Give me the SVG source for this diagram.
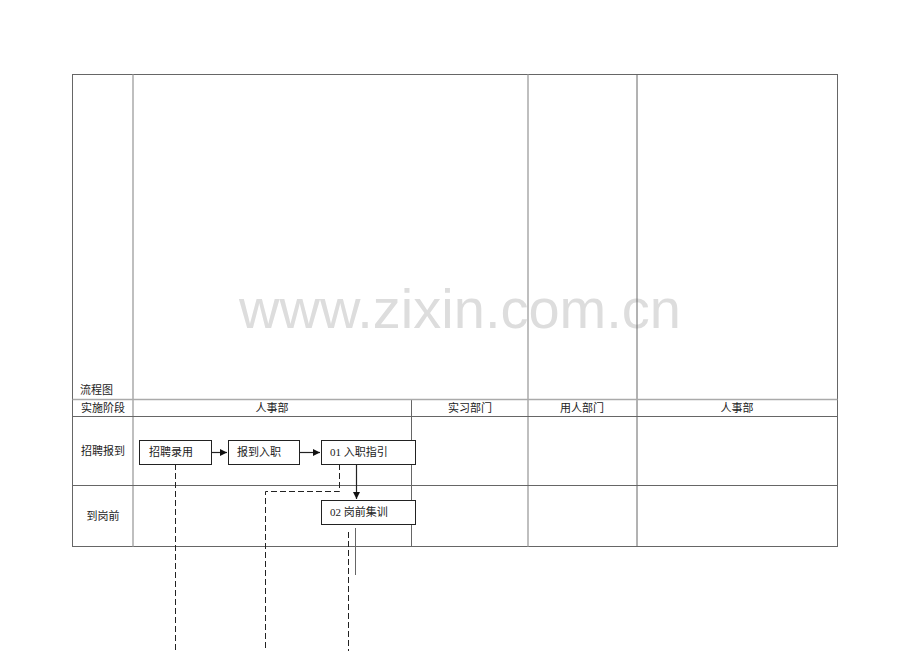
<svg xmlns="http://www.w3.org/2000/svg" width="920" height="651" viewBox="0 0 920 651">
<defs>
<style>
.t{font-family:"Liberation Serif","Noto Sans CJK SC",serif;font-size:11px;fill:#222}
.g{stroke:#666;stroke-width:1;fill:none}
.lg{stroke:#aaa;stroke-width:1.5;fill:none}
.box{fill:#fff;stroke:#222;stroke-width:1}
.d{stroke:#222;stroke-width:1;stroke-dasharray:6,3;fill:none}
.s{stroke:#222;stroke-width:1.2;fill:none}
</style>
<marker id="ah" markerWidth="8" markerHeight="8" refX="7" refY="4" orient="auto" markerUnits="userSpaceOnUse">
<path d="M0,0.5 L7,4 L0,7.5 Z" fill="#111"/>
</marker>
</defs>
<rect width="920" height="651" fill="#fff"/>
<text x="460" y="328" text-anchor="middle" style="font-family:'Liberation Sans',sans-serif;font-size:56px;fill:#ddd">www.zixin.com.cn</text>
<g id="table">
<rect x="72.5" y="74.5" width="765" height="472" class="g"/>
<line x1="133" y1="74.5" x2="133" y2="546.5" class="lg"/>
<line x1="528" y1="74.5" x2="528" y2="546.5" class="lg"/>
<line x1="637" y1="74.5" x2="637" y2="546.5" class="g"/>
<line x1="411.5" y1="399.5" x2="411.5" y2="546.5" class="g"/>
<line x1="72.5" y1="399.5" x2="837.5" y2="399.5" class="lg"/>
<line x1="72.5" y1="416.5" x2="837.5" y2="416.5" class="g"/>
<line x1="72.5" y1="485.5" x2="837.5" y2="485.5" class="g"/>
<text x="80" y="394" class="t">流程图</text>
<text x="103" y="412" class="t" text-anchor="middle">实施阶段</text>
<text x="272" y="412" class="t" text-anchor="middle">人事部</text>
<text x="470" y="412" class="t" text-anchor="middle">实习部门</text>
<text x="582" y="412" class="t" text-anchor="middle">用人部门</text>
<text x="737" y="412" class="t" text-anchor="middle">人事部</text>
<text x="103" y="455" class="t" text-anchor="middle">招聘报到</text>
<text x="103" y="520" class="t" text-anchor="middle">到岗前</text>
</g>
<g id="connectors">
<line x1="211" y1="452.5" x2="227" y2="452.5" class="s" marker-end="url(#ah)"/>
<line x1="299" y1="452.5" x2="320" y2="452.5" class="s" marker-end="url(#ah)"/>
<line x1="356.5" y1="464" x2="356.5" y2="499" class="s" marker-end="url(#ah)"/>
<line x1="175.5" y1="464" x2="175.5" y2="651" class="d"/>
<polyline points="339.5,464 339.5,491.5 265.5,491.5 265.5,651" class="d"/>
<line x1="348.5" y1="532" x2="348.5" y2="651" class="d"/>
<line x1="355.5" y1="528" x2="355.5" y2="575" stroke="#666" stroke-width="1"/>
</g>
<g id="n1"><rect x="139.5" y="440.5" width="72" height="24" class="box"/><text x="149" y="456" class="t">招聘录用</text></g>
<g id="n2"><rect x="228.5" y="440.5" width="71" height="24" class="box"/><text x="237" y="456" class="t">报到入职</text></g>
<g id="n3"><rect x="321.5" y="440.5" width="94" height="24" class="box"/><text x="330" y="456" class="t">01 入职指引</text></g>
<g id="n4"><rect x="321.5" y="500.5" width="94" height="24" class="box"/><text x="330" y="516" class="t">02 岗前集训</text></g>
</svg>
